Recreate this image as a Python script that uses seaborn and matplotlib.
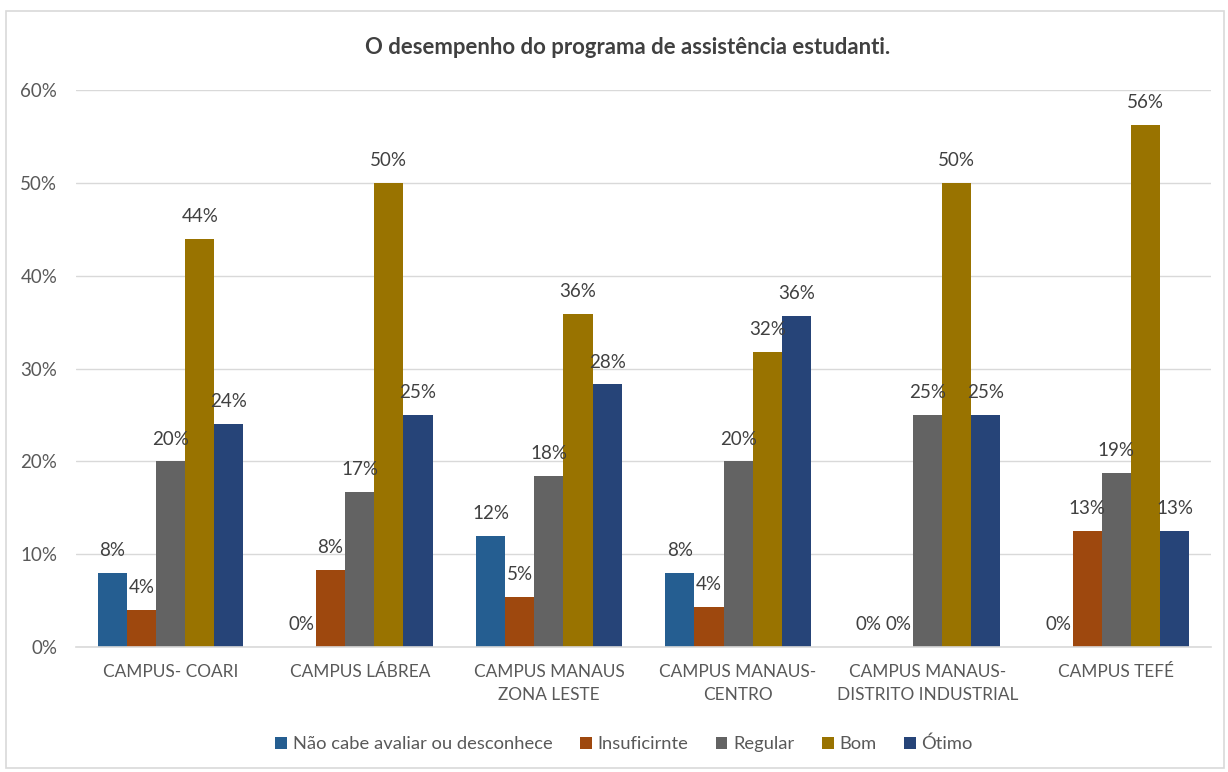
import math
import matplotlib
matplotlib.use("Agg")
import matplotlib.pyplot as plt
from matplotlib.patches import Rectangle
import seaborn as sns
import pandas as pd

categories = ["CAMPUS- COARI", "CAMPUS LÁBREA", "CAMPUS MANAUS\nZONA LESTE",
              "CAMPUS MANAUS-\nCENTRO", "CAMPUS MANAUS-\nDISTRITO INDUSTRIAL", "CAMPUS TEFÉ"]
series = ["Não cabe avaliar ou desconhece", "Insuficirnte", "Regular", "Bom", "Ótimo"]
nao_cabe = [8.0, 0.0, 12.0, 8.0, 0.0, 0.0]
insuficiente = [4.0, 8.33, 5.4, 4.35, 0.0, 12.5]
regular = [20.0, 16.67, 18.4, 20.0, 25.0, 18.75]
bom = [44.0, 50.0, 35.9, 31.8, 50.0, 56.25]
otimo = [24.0, 25.0, 28.3, 35.7, 25.0, 12.5]
colors = ["#255E91", "#9E480E", "#636363", "#997300", "#264478"]
title = "O desempenho do programa de assistência estudanti."

values = [nao_cabe, insuficiente, regular, bom, otimo]
rows = []
for s, vals in zip(series, values):
    for c, v in zip(categories, vals):
        rows.append({"Campus": c, "Série": s, "Valor": v})
df = pd.DataFrame(rows)

sns.set_style("white")
plt.rcParams["font.family"] = ["Lato", "DejaVu Sans"]

fig = plt.figure(figsize=(12.28, 7.72), dpi=100)
ax = fig.add_axes([76 / 1228, 0.162, 1135 / 1228, 0.721])

sns.barplot(data=df, x="Campus", y="Valor", hue="Série", hue_order=series,
            order=categories, palette=colors, width=0.77, saturation=1,
            edgecolor="none", ax=ax, legend=True)

ax.set_ylim(0, 60)
ax.set_yticks(range(0, 61, 10))
ax.set_yticklabels([f"{t}%" for t in range(0, 61, 10)], fontsize=13.5, color="#595959")
ax.tick_params(axis="x", labelsize=12.4, colors="#595959", length=0, pad=12)
ax.tick_params(axis="y", length=0, pad=13.5)
for lbl in ax.get_xticklabels():
    lbl.set_linespacing(1.55)
ax.set_xlabel("")
ax.set_ylabel("")
ax.yaxis.grid(True, color="#D9D9D9", linewidth=1)
ax.set_axisbelow(True)
for sp in ["top", "right", "left"]:
    ax.spines[sp].set_visible(False)
ax.spines["bottom"].set_color("#D9D9D9")
ax.spines["bottom"].set_linewidth(1.2)
ax.set_xlim(-0.5, len(categories) - 0.5)

for cont in ax.containers:
    labels = [f"{math.floor(v + 0.5)}%" for v in cont.datavalues]
    ax.bar_label(cont, labels=labels, padding=10, fontsize=13.5, color="#404040")

handles, labs = ax.get_legend_handles_labels()
ax.legend_.remove()
fig.legend(handles, labs, loc="center", bbox_to_anchor=(0.508, 0.036), ncol=5,
           frameon=False, fontsize=13.2, handlelength=0.65, handleheight=0.65,
           handletextpad=0.3, columnspacing=1.5, labelcolor="#595959")

fig.text(0.511, 0.939, title, ha="center", va="center", fontsize=15.9,
         fontweight="bold", color="#404040")

fig.patches.append(Rectangle((6 / 1228, 4 / 772), 1 - 10 / 1228, 1 - 15 / 772,
                             transform=fig.transFigure, fill=False,
                             edgecolor="#D9D9D9", linewidth=1.2))

fig.savefig("out.png", dpi=100)
